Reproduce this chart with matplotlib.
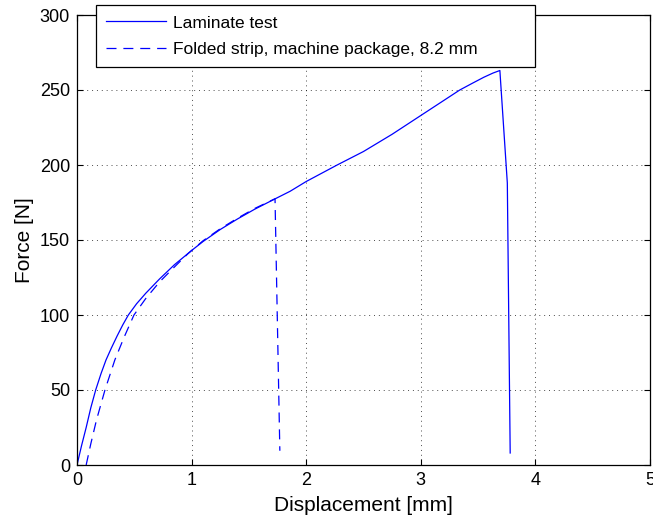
import matplotlib.pyplot as plt
import numpy as np

plt.rcParams['font.family'] = ['Liberation Sans', 'DejaVu Sans']

# Laminate test
lam_x = [0, 0.04, 0.08, 0.12, 0.163, 0.21, 0.253, 0.3, 0.35, 0.4, 0.448, 0.52,
         0.6, 0.72, 0.85, 1.0, 1.1, 1.25, 1.4, 1.55, 1.73, 1.86, 2.0, 2.27,
         2.5, 2.75, 3.0, 3.2, 3.34, 3.45, 3.55, 3.63, 3.69, 3.755, 3.78]
lam_f = [0, 13, 25, 38, 50, 61, 70, 78, 86, 93.5, 100, 107.5,
         114.5, 124, 133.5, 143, 149, 157, 164, 170.5, 177.5, 182.5, 189, 200,
         209, 220.5, 233, 243, 250, 254.5, 258.5, 261.3, 263, 188, 8]

# Folded strip, machine package, 8.2 mm
fold_x = [0.08, 0.12, 0.17, 0.244, 0.33, 0.41, 0.497, 0.6, 0.72, 0.85, 0.97,
          1.1, 1.25, 1.4, 1.55, 1.728, 1.77]
fold_f = [0, 14, 30, 50, 70, 85, 100, 111, 122, 132, 141,
          149.5, 157.5, 164.5, 171, 177.5, 9.5]

fig = plt.figure(figsize=(6.53, 5.19), dpi=100)
ax = fig.add_axes([77/653, 54/519, 573/653, 450/519])

l1, = ax.plot(lam_x, lam_f, color='blue', linewidth=0.9, label='Laminate test')
l2, = ax.plot(fold_x, fold_f, color='blue', linewidth=0.9, linestyle=(0, (8, 5.5)),
              label='Folded strip, machine package, 8.2 mm')

ax.set_xlim(0, 5)
ax.set_ylim(0, 300)
ax.set_xticks(np.arange(0, 6, 1))
ax.set_yticks(np.arange(0, 301, 50))
ax.grid(True, linestyle=(0, (1, 4)), color='black', linewidth=0.7, alpha=0.7)
ax.tick_params(direction='in', top=True, right=True, labelsize=13, length=4, pad=5)
for s in ax.spines.values():
    s.set_linewidth(0.9)

ax.set_xlabel('Displacement [mm]', fontsize=15, labelpad=5)
ax.set_ylabel('Force [N]', fontsize=15, labelpad=4)

leg = fig.legend(handles=[l1, l2], loc='upper left',
                 bbox_to_anchor=(96/653, (519 - 66)/519, 439/653, 61/519),
                 mode='expand', borderaxespad=0, fontsize=12.5,
                 handlelength=3.45, handletextpad=0.4, fancybox=False,
                 framealpha=1, edgecolor='black', borderpad=0.6,
                 labelspacing=0.65)
leg.get_frame().set_linewidth(0.9)

fig.savefig('out.png', dpi=100)
